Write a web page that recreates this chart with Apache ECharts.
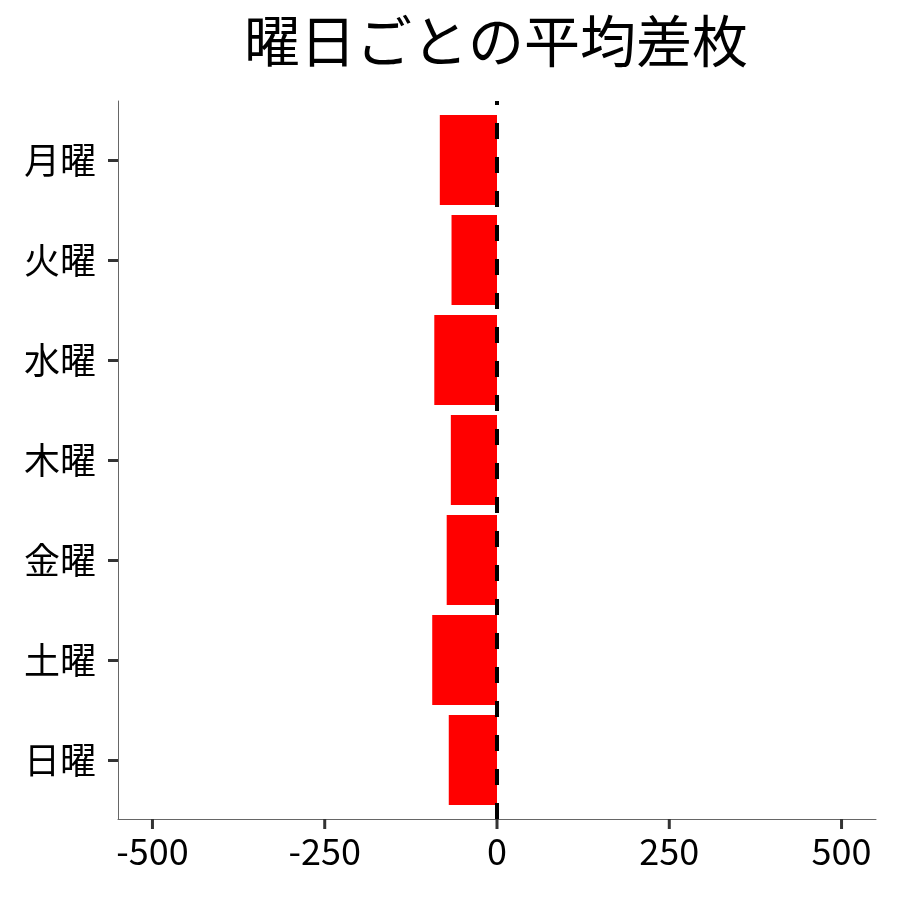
<!DOCTYPE html>
<html>
<head>
<meta charset="utf-8">
<script src="https://cdn.jsdelivr.net/npm/echarts@6/dist/echarts.min.js"></script>
<style>
  html, body { margin: 0; padding: 0; background: #fff; }
  #chart { width: 900px; height: 900px; }
</style>
</head>
<body>
<div id="chart"></div>
<script>
var days = ['月曜', '火曜', '水曜', '木曜', '金曜', '土曜', '日曜'];
var avgDiff = [-83, -66, -91, -67, -73, -94, -70];
var xTicks = [-500, -250, 0, 250, 500];

var dom = document.getElementById('chart');
var myChart = echarts.init(dom);
var font = '"Noto Sans CJK JP", "Noto Sans", sans-serif';

// panel geometry (the frame is slightly taller than the category bands)
var xMin = -550, xMax = 550;
var panelLeft = 118, panelWidth = 758;
var frameTop = 101, frameHeight = 718;
var bandTop = 110, bandHeight = 700;
var tickLen = 10;
var pxPerUnit = panelWidth / (xMax - xMin);
var tickLeft = panelLeft + (xTicks[0] - xMin) * pxPerUnit;
var tickWidth = (xTicks[xTicks.length - 1] - xTicks[0]) * pxPerUnit;

var option = {
    backgroundColor: '#fff',
    animation: false,
    textStyle: { fontFamily: font },
    title: {
        text: '曜日ごとの平均差枚',
        left: 491,
        top: 8,
        textAlign: 'center',
        textStyle: { fontSize: 56, fontWeight: 'normal', color: '#000', fontFamily: font }
    },
    grid: [
        { left: panelLeft, width: panelWidth, top: bandTop, height: bandHeight },
        { left: panelLeft, width: panelWidth, top: frameTop, height: frameHeight },
        { left: tickLeft, width: tickWidth, top: frameTop, height: frameHeight }
    ],
    xAxis: [
        {
            gridIndex: 0,
            type: 'value',
            min: xMin,
            max: xMax,
            show: false
        },
        {
            gridIndex: 1,
            type: 'value',
            min: xMin,
            max: xMax,
            splitLine: { show: false },
            axisLine: { show: true, onZero: false, lineStyle: { color: '#666', width: 1 } },
            axisTick: { show: false },
            axisLabel: { show: false }
        },
        {
            // evenly spaced labels for -500..500
            gridIndex: 2,
            type: 'category',
            data: xTicks.map(String),
            boundaryGap: false,
            splitLine: { show: false },
            axisLine: { show: false, onZero: false },
            axisTick: { show: false },
            axisLabel: {
                interval: 0,
                color: '#000',
                fontSize: 36,
                margin: 14,
                fontFamily: font
            }
        }
    ],
    yAxis: [
        {
            gridIndex: 0,
            type: 'category',
            data: days,
            inverse: true,
            axisLine: { show: false, onZero: false },
            axisTick: { show: true, alignWithLabel: true, length: tickLen, lineStyle: { color: '#333', width: 3 } },
            axisLabel: { color: '#000', fontSize: 36, margin: 22, fontFamily: font }
        },
        {
            gridIndex: 1,
            type: 'value',
            min: 0,
            max: 1,
            splitLine: { show: false },
            axisLine: { show: true, onZero: false, lineStyle: { color: '#666', width: 1 } },
            axisTick: { show: false },
            axisLabel: { show: false }
        },
        { gridIndex: 2, type: 'value', min: 0, max: 1, show: false }
    ],
    series: [
        {
            type: 'bar',
            xAxisIndex: 0,
            yAxisIndex: 0,
            data: avgDiff,
            barWidth: '90%',
            itemStyle: { color: '#ff0000' }
        },
        {
            type: 'line',
            xAxisIndex: 1,
            yAxisIndex: 1,
            data: [],
            z: 5,
            markLine: {
                silent: true,
                symbol: 'none',
                label: { show: false },
                lineStyle: { color: '#000', type: [16, 18], width: 4 },
                data: [{ xAxis: 0 }]
            }
        },
        {
            // x tick marks hanging below the axis line
            type: 'custom',
            xAxisIndex: 1,
            yAxisIndex: 1,
            clip: false,
            silent: true,
            z: 6,
            data: xTicks.map(function (v) { return [v, 0]; }),
            renderItem: function (params, api) {
                var p = api.coord([api.value(0), api.value(1)]);
                return {
                    type: 'line',
                    shape: { x1: p[0], y1: p[1], x2: p[0], y2: p[1] + tickLen },
                    style: { stroke: '#333', lineWidth: 3 }
                };
            }
        }
    ]
};

myChart.setOption(option, true);
</script>
</body>
</html>
